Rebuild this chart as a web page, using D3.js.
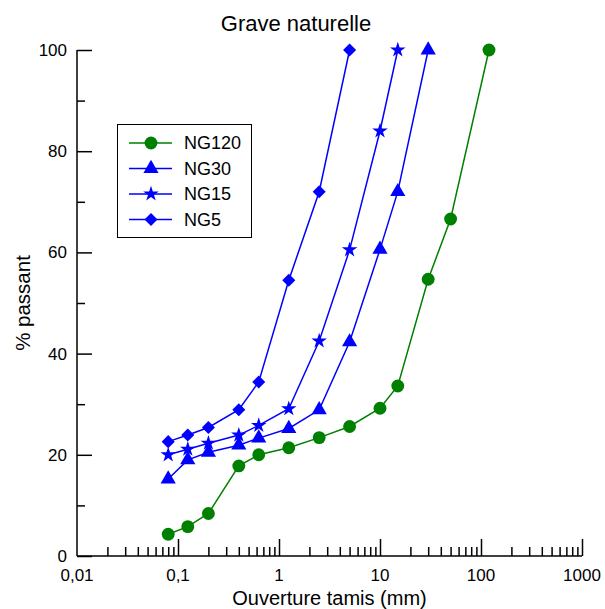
<!DOCTYPE html>
<html><head><meta charset="utf-8">
<script src="https://cdn.jsdelivr.net/npm/d3@7"></script>
<style>body{margin:0;background:#fff}svg{display:block;font-family:Arial,"Liberation Sans",sans-serif}</style>
</head><body><svg id="c" width="605" height="609"></svg>
<script>
const xNG120 = [0.08,0.125,0.2,0.4,0.63,1.25,2.5,5,10,15,30,50,120];
const yNG120 = [4.3,5.8,8.4,17.8,20.0,21.4,23.4,25.6,29.2,33.6,54.7,66.6,100];
const xNG30 = [0.08,0.125,0.2,0.4,0.63,1.25,2.5,5,10,15,30];
const yNG30 = [15.2,19.0,20.5,21.9,23.3,25.2,28.9,42.3,60.6,72.0,100];
const xNG15 = [0.08,0.125,0.2,0.4,0.63,1.25,2.5,5,10,15];
const yNG15 = [20.0,21.1,22.3,23.9,25.8,29.1,42.5,60.5,84.0,100];
const xNG5 = [0.08,0.125,0.2,0.4,0.63,1.25,2.5,5];
const yNG5 = [22.6,23.9,25.4,28.9,34.4,54.5,72.0,100];
const seriesNames = ["NG120","NG30","NG15","NG5"];
const xTickValues = [0.01,0.1,1,10,100,1000];
const xTickLabels = ["0,01","0,1","1","10","100","1000"];
const yTickValues = [0,20,40,60,80,100];

const series = [
  {name:seriesNames[0], xs:xNG120, ys:yNG120, color:"#008000", sym:d3.symbolCircle, size:130, rot:0},
  {name:seriesNames[1], xs:xNG30, ys:yNG30, color:"#0000ff", sym:d3.symbolTriangle, size:100, rot:0},
  {name:seriesNames[2], xs:xNG15, ys:yNG15, color:"#0000ff", sym:d3.symbolStar, size:75, rot:0},
  {name:seriesNames[3], xs:xNG5, ys:yNG5, color:"#0000ff", sym:d3.symbolSquare, size:85, rot:45}
];

const svg = d3.select("#c");
const L=77, R=582, T=50, B=556;
const x = d3.scaleLog().domain([0.01,1000]).range([L,R]);
const y = d3.scaleLinear().domain([0,100]).range([B,T]);

svg.append("line").attr("x1",L).attr("x2",L).attr("y1",T).attr("y2",B).attr("stroke","#000").attr("stroke-width",1.5);
svg.append("line").attr("x1",L).attr("x2",R).attr("y1",B).attr("y2",B).attr("stroke","#000").attr("stroke-width",1.5);

const yAx = d3.axisRight(y).tickValues(yTickValues).tickSize(15).tickFormat("");
const gy = svg.append("g").attr("transform",`translate(${L},0)`).call(yAx);
gy.select(".domain").remove();
gy.selectAll("line").attr("stroke-width",1.5);
const yMinor = d3.axisRight(y).tickValues([10,30,50,70,90]).tickSize(8).tickFormat("");
const gym = svg.append("g").attr("transform",`translate(${L},0)`).call(yMinor);
gym.select(".domain").remove();
gym.selectAll("line").attr("stroke-width",1.5);
svg.selectAll(null).data(yTickValues).join("text")
  .attr("x",L-10).attr("y",d=>y(d)+6).attr("text-anchor","end")
  .attr("font-size",17).text(d=>d);

const minors=[];
for(let e=-2;e<3;e++){for(let k=2;k<10;k++)minors.push(k*Math.pow(10,e));}
const xAx = d3.axisTop(x).tickValues(xTickValues.slice(1)).tickSize(17).tickFormat("");
const gx = svg.append("g").attr("transform",`translate(0,${B})`).call(xAx);
gx.select(".domain").remove();
gx.selectAll("line").attr("stroke-width",1.5);
const xMin = d3.axisTop(x).tickValues(minors).tickSize(9).tickFormat("");
const gxm = svg.append("g").attr("transform",`translate(0,${B})`).call(xMin);
gxm.select(".domain").remove();
gxm.selectAll("line").attr("stroke-width",1.5);
svg.selectAll(null).data(xTickValues).join("text")
  .attr("x",d=>x(d)).attr("y",B+25).attr("text-anchor","middle")
  .attr("font-size",17).text((d,i)=>xTickLabels[i]);

svg.append("text").attr("x",296).attr("y",31).attr("text-anchor","middle").attr("font-size",22).text("Grave naturelle");
svg.append("text").attr("x",(L+R)/2).attr("y",605).attr("text-anchor","middle").attr("font-size",20).text("Ouverture tamis (mm)");
svg.append("text").attr("transform",`translate(30,${(T+B)/2}) rotate(-90)`).attr("text-anchor","middle").attr("font-size",20.5).text("% passant");

const line = d3.line().x(d=>x(d[0])).y(d=>y(d[1]));
series.forEach(s=>{
  const pts = s.xs.map((v,i)=>[v,s.ys[i]]);
  svg.append("path").datum(pts).attr("d",line).attr("fill","none").attr("stroke",s.color).attr("stroke-width",1.5);
  svg.selectAll(null).data(pts).join("path")
    .attr("transform",d=>`translate(${x(d[0])},${y(d[1])}) rotate(${s.rot})`)
    .attr("d",d3.symbol().type(s.sym).size(s.size)).attr("fill",s.color);
});

const lg = svg.append("g");
lg.append("rect").attr("x",117.5).attr("y",124.5).attr("width",134).attr("height",113).attr("fill","#fff").attr("stroke","#000").attr("stroke-width",1);
series.forEach((s,i)=>{
  const yy = 143 + i*25.5;
  lg.append("line").attr("x1",129).attr("x2",172).attr("y1",yy).attr("y2",yy).attr("stroke",s.color).attr("stroke-width",1.5);
  lg.append("path").attr("transform",`translate(151,${yy}) rotate(${s.rot})`).attr("d",d3.symbol().type(s.sym).size(s.size)).attr("fill",s.color);
  lg.append("text").attr("x",184).attr("y",yy+6).attr("font-size",18).text(s.name);
});
</script></body></html>
